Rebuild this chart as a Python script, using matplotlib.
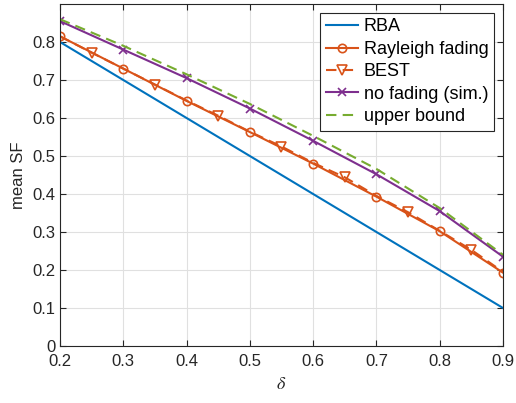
import numpy as np
import matplotlib.pyplot as plt

plt.rcParams['font.family'] = ['Liberation Sans', 'DejaVu Sans']
plt.rcParams['mathtext.fontset'] = 'stix'

# data
delta = [0.2, 0.3, 0.4, 0.5, 0.6, 0.7, 0.8, 0.9]
rba = [0.8, 0.7, 0.6, 0.5, 0.4, 0.3, 0.2, 0.1]
rayleigh = [0.815, 0.73, 0.645, 0.563, 0.48, 0.393, 0.302, 0.193]
delta_best = [0.2, 0.25, 0.3, 0.35, 0.4, 0.45, 0.5, 0.55, 0.6, 0.65, 0.7, 0.75, 0.8, 0.85, 0.9]
best = [0.815, 0.772, 0.73, 0.688, 0.646, 0.606, 0.564, 0.525, 0.482, 0.444, 0.395, 0.352, 0.303, 0.253, 0.195]
nofading = [0.855, 0.78, 0.705, 0.625, 0.54, 0.452, 0.355, 0.235]
upper = [0.86, 0.79, 0.715, 0.637, 0.553, 0.466, 0.363, 0.24]

blue = '#0072BD'
orange = '#D95319'
purple = '#7E2F8E'
green = '#77AC30'

fig = plt.figure(figsize=(5.16, 4.03), dpi=100)
ax = fig.add_axes([60/516, 1 - 346/403, 443/516, 342/403])

ax.plot(delta, rba, color=blue, lw=1.5, label='RBA')
ax.plot(delta, rayleigh, color=orange, lw=1.5, marker='o', ms=6, mfc='none',
        mew=1.2, label='Rayleigh fading')
ax.plot(delta_best, best, color=orange, lw=1.5, ls=(0, (5, 3)), marker='v', ms=6.5,
        mfc='none', mew=1.2, markevery=slice(1, None, 2), label='BEST')
ax.plot(delta, nofading, color=purple, lw=1.5, marker='x', ms=6, mew=1.2,
        label='no fading (sim.)')
ax.plot(delta, upper, color=green, lw=1.5, ls=(0, (5, 3)), label='upper bound')

ax.set_xlim(0.2, 0.9)
ax.set_ylim(0, 0.9)
ax.set_xticks(np.arange(0.2, 0.91, 0.1))
ax.set_yticks(np.arange(0, 0.81, 0.1))
ax.set_xticklabels(['0.2', '0.3', '0.4', '0.5', '0.6', '0.7', '0.8', '0.9'])
ax.set_yticklabels(['0', '0.1', '0.2', '0.3', '0.4', '0.5', '0.6', '0.7', '0.8'])
ax.grid(True, color='#e0e0e0', lw=0.8)
ax.set_axisbelow(True)
ax.tick_params(direction='in', top=True, right=True, labelsize=12, color='#262626',
               labelcolor='#262626', length=4)
ax.tick_params(axis='x', pad=6)
for s in ax.spines.values():
    s.set_color('#262626')
    s.set_linewidth(0.8)

ax.set_xlabel(r'$\delta$', fontsize=13, color='#262626', labelpad=5)
ax.set_ylabel('mean SF', fontsize=12, color='#262626')

leg = ax.legend(loc='upper right', fontsize=13, fancybox=False, framealpha=1,
                edgecolor='#262626', borderpad=0.3, labelspacing=0.3,
                handlelength=1.8, handletextpad=0.3, borderaxespad=0.5)
leg.get_frame().set_linewidth(0.8)

fig.savefig('out.png', dpi=100)
